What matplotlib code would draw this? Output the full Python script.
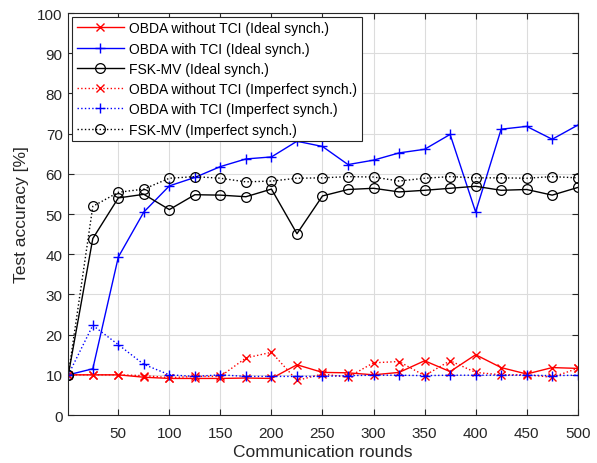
import matplotlib
matplotlib.use("Agg")
import matplotlib.pyplot as plt

plt.rcParams["font.family"] = ["Liberation Sans", "DejaVu Sans"]

# Kommunikationsrunden
rounds = [1, 25, 50, 75, 100, 125, 150, 175, 200, 225, 250,
          275, 300, 325, 350, 375, 400, 425, 450, 475, 500]

# ideale Synchronisation
obda_no_tci_ideal = [10.0, 10.0, 10.0, 9.4, 9.1, 9.1, 9.1, 9.2, 9.1, 12.5, 10.6,
                     10.5, 10.0, 10.6, 13.5, 10.8, 15.0, 11.8, 10.2, 11.8, 11.6]
obda_tci_ideal = [10.0, 11.5, 39.3, 50.5, 57.0, 59.1, 61.8, 63.7, 64.2, 68.1, 66.8,
                  62.3, 63.4, 65.2, 66.1, 69.8, 50.5, 71.1, 71.8, 68.6, 72.1]
fsk_mv_ideal = [10.0, 43.9, 54.0, 54.9, 51.1, 54.8, 54.7, 54.3, 56.2, 45.1, 54.5,
                56.1, 56.4, 55.5, 55.9, 56.4, 56.9, 55.9, 56.1, 54.7, 56.6]

# nicht-ideale Synchronisation
obda_no_tci_imp = [10.0, 10.0, 10.0, 9.8, 9.3, 9.6, 9.6, 14.2, 15.6, 8.6, 10.2,
                   9.4, 13.0, 13.3, 9.8, 13.5, 10.6, 10.0, 10.0, 9.4, 11.6]
obda_tci_imp = [10.0, 22.3, 17.5, 12.6, 10.0, 9.6, 10.0, 9.6, 9.6, 9.6, 9.6,
                9.8, 9.9, 9.9, 9.8, 9.9, 9.9, 9.9, 9.9, 9.8, 9.9]
fsk_mv_imp = [10.0, 51.9, 55.4, 56.2, 58.9, 59.3, 58.9, 58.0, 58.2, 58.9, 59.0,
              59.3, 59.2, 58.2, 58.9, 59.3, 59.0, 59.0, 58.9, 59.3, 59.0]

fig = plt.figure(figsize=(5.97, 4.64), dpi=100)
ax = fig.add_axes([0.1144, 0.1034, 0.8533, 0.8664])

lw = 1.0
x_kw = dict(marker="x", ms=5.5, mew=1, lw=lw)
p_kw = dict(marker="+", ms=7.5, mew=1, lw=lw)
o_kw = dict(marker="o", ms=7, mfc="none", mew=0.9, lw=lw)
ax.plot(rounds, obda_no_tci_ideal, "-", color="red", label="OBDA without TCI (Ideal synch.)", **x_kw)
ax.plot(rounds, obda_tci_ideal, "-", color="blue", label="OBDA with TCI (Ideal synch.)", **p_kw)
ax.plot(rounds, fsk_mv_ideal, "-", color="black", label="FSK-MV (Ideal synch.)", **o_kw)
ax.plot(rounds, obda_no_tci_imp, ":", color="red", label="OBDA without TCI (Imperfect synch.)", **x_kw)
ax.plot(rounds, obda_tci_imp, ":", color="blue", label="OBDA with TCI (Imperfect synch.)", **p_kw)
ax.plot(rounds, fsk_mv_imp, ":", color="black", label="FSK-MV (Imperfect synch.)", **o_kw)

ax.set_xlim(1, 500)
ax.set_ylim(0, 100)
ax.set_xticks(range(50, 501, 50))
ax.set_yticks(range(0, 101, 10))
ax.grid(True, color="#dcdcdc", lw=0.8)
ax.set_axisbelow(True)
ax.tick_params(direction="in", top=True, right=True, labelsize=11, colors="#262626",
               length=4, width=0.8)
ax.tick_params(axis="x", pad=8)
ax.tick_params(axis="y", pad=4)
for s in ax.spines.values():
    s.set_color("#262626")
    s.set_linewidth(0.8)

ax.set_xlabel("Communication rounds", fontsize=12.5, color="#262626", labelpad=3)
ax.set_ylabel("Test accuracy [%]", fontsize=12.5, color="#262626", labelpad=6)

leg = ax.legend(loc="upper left", fontsize=10, handlelength=3.4, fancybox=False,
                framealpha=1, edgecolor="#262626", borderaxespad=0.3,
                labelspacing=0.45, borderpad=0.3, handletextpad=0.4)
leg.get_frame().set_linewidth(0.8)

fig.savefig("out.png", dpi=100)
